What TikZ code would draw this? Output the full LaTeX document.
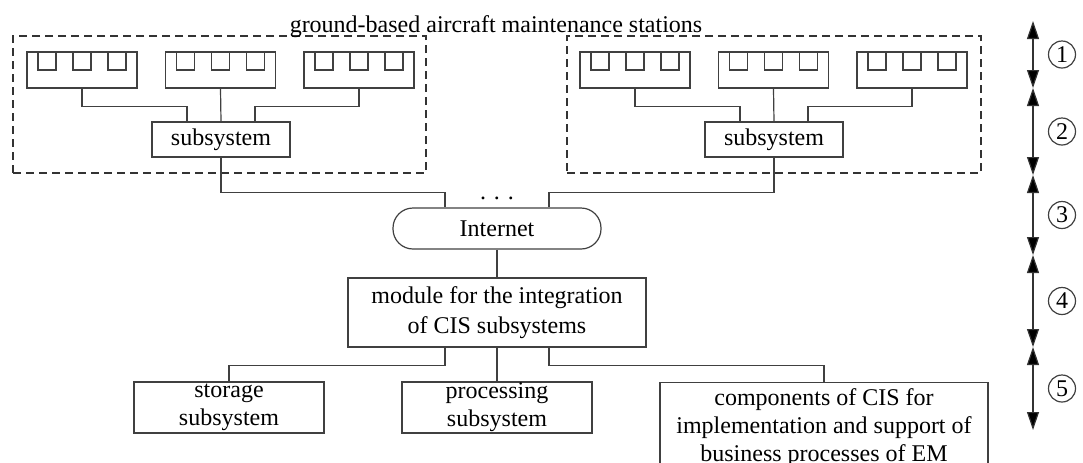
\documentclass[tikz,border=0pt]{standalone}
\usepackage{fontspec}
\setmainfont{Liberation Serif}
\usetikzlibrary{arrows.meta}

\begin{document}
\begin{tikzpicture}[x=0.5pt, y=-0.5pt, font=\fontsize{12}{14}\selectfont,
    box/.style={draw=black!75, line width=0.6pt, inner sep=0pt, align=center},
    wire/.style={draw=black!75, line width=0.6pt},
    stationbox/.style={draw=black!80, line width=0.8pt, dash pattern=on 4pt off 2.5pt, inner sep=0pt},
    level/.style={draw=black!80, line width=0.6pt, {Triangle[length=9pt,width=6pt,fill=black]}-{Triangle[length=9pt,width=6pt,fill=black]}},
    num/.style={circle, draw=black!75, line width=0.6pt, minimum size=13.5pt, inner sep=0pt}]
  \useasboundingbox (0,0) rectangle (1083,462);

  % stations
  \node[stationbox, minimum width=206.5pt, minimum height=68.5pt] (stL) at (219.5,104.5) {};
  \node[stationbox, minimum width=207pt, minimum height=68.5pt] (stR) at (774,104.5) {};
  \node[anchor=base] (title) at (496,32) {ground-based aircraft maintenance stations};

  \foreach \s/\o in {L/0, R/553} {
    \node[box, minimum width=69pt, minimum height=17.5pt] (sub\s) at (221+\o,139.5) {subsystem};
    \foreach \g/\cx in {1/82, 2/220.5, 3/359} {
      \node[box, minimum width=55pt, minimum height=18pt] (grp\s\g) at (\cx+\o,70) {};
      \foreach \dx in {-35, 0, 35}
        \draw[wire] (\cx+\o+\dx-9,52) rectangle (\cx+\o+\dx+9,70);
    }
    \draw[wire] (grp\s1.south) -- ++(0,18) -| ([xshift=-17pt]sub\s.north);
    \draw[wire] (grp\s2.south) -- (sub\s.north);
    \draw[wire] (grp\s3.south) -- ++(0,18) -| ([xshift=17pt]sub\s.north);
  }

  % internet and integration
  \node[box, rounded corners=10pt, minimum width=104pt, minimum height=20.5pt] (net) at (497,228.5) {Internet};
  \node[anchor=base] (dots) at (497,199) {. . .};
  \draw[wire] (subL.south) -- ++(0,35) -| ([xshift=-26pt]net.north);
  \draw[wire] (subR.south) -- ++(0,35) -| ([xshift=26pt]net.north);

  \node[box, minimum width=149pt, minimum height=34.5pt, font=\fontsize{12}{15}\selectfont] (mod) at (497,312.5) {module for the integration\\of CIS subsystems};
  \draw[wire] (net) -- (mod);

  % bottom subsystems
  \node[box, minimum width=95pt, minimum height=25.5pt] (store) at (229,407.5) {storage\\subsystem};
  \node[box, minimum width=95pt, minimum height=25.5pt] (proc) at (497,407.5) {processing\\subsystem};
  \node[box, anchor=north, minimum width=164pt, inner ysep=3pt] (comp) at (824,382) {components of CIS for\\implementation and support of\\business processes of EM\\[2pt]};
  \draw[wire] ([xshift=-26pt]mod.south) -- ++(0,18) -| (store.north);
  \draw[wire] (mod) -- (proc);
  \draw[wire] ([xshift=26pt]mod.south) -- ++(0,18) -| (comp.north);

  % levels
  \foreach \i/\a/\b in {1/21/88, 2/88/175, 3/175/255, 4/255/347, 5/347/430} {
    \coordinate (lvA\i) at (1033,\a);
    \coordinate (lvB\i) at (1033,\b);
    \draw[level] (lvA\i) -- (lvB\i);
    \node[num] (lv\i) at (1062,{(\a+\b)/2}) {\i};
  }
\end{tikzpicture}
\end{document}
